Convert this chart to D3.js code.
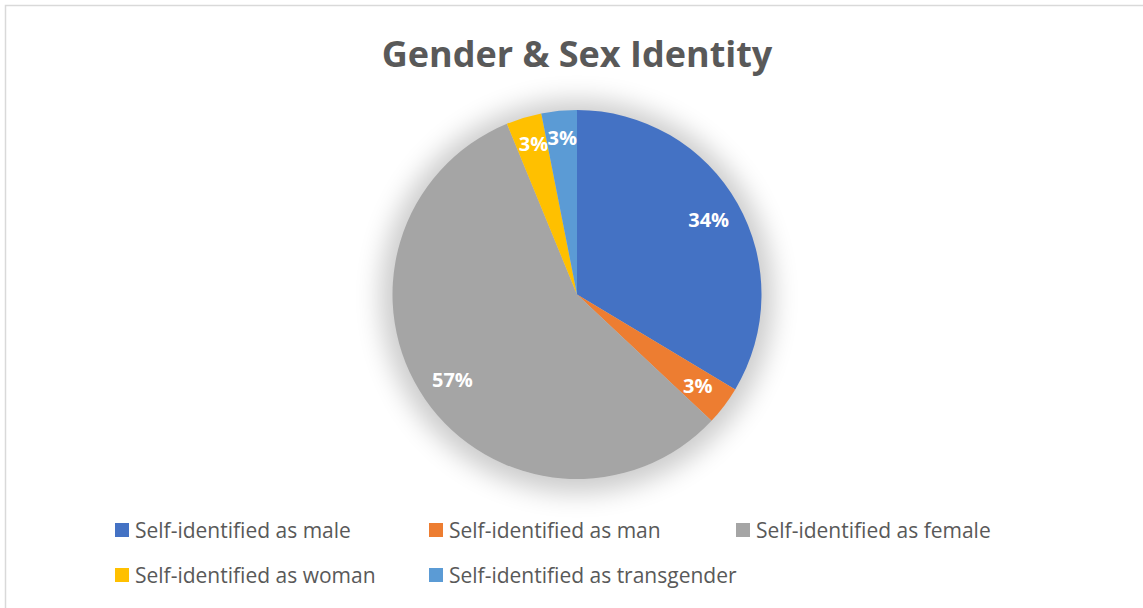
<!DOCTYPE html>
<html>
<head>
<meta charset="utf-8">
<script src="https://cdn.jsdelivr.net/npm/d3@7"></script>
<style>
  body { margin: 0; background: #fff; }
  svg text { font-family: "Open Sans", "Noto Sans", sans-serif; }
</style>
</head>
<body>
<svg id="chart" width="1143" height="608"></svg>
<script>
//------------------------------------------------------------------------------
//Data
//------------------------------------------------------------------------------
let title = "Gender & Sex Identity";
let categories = ["Self-identified as male", "Self-identified as man", "Self-identified as female",
                  "Self-identified as woman", "Self-identified as transgender"];
let values = [33.6, 3.4, 56.8, 3.1, 3.1];
let colors = ["#4472C4", "#ED7D31", "#A5A5A5", "#FFC000", "#5B9BD5"];

main()

//------------------------------------------------------------------------------
//Main
//------------------------------------------------------------------------------
function main()
{
    var svg = d3.select("#chart");

    // outer frame
    svg.append("rect")
        .attr("x", 5.5).attr("y", 5.5)
        .attr("width", 1160).attr("height", 620)
        .attr("fill", "#fff")
        .attr("stroke", "#d9d9d9")
        .attr("stroke-width", 1.5);

    // title
    svg.append("text")
        .attr("x", 577).attr("y", 67)
        .attr("text-anchor", "middle")
        .attr("font-size", 36)
        .attr("font-weight", "bold")
        .attr("fill", "#595959")
        .text(title);

    pieChart(svg);
    legend(svg);
}

function pieChart(svg)
{
    var cx = 577, cy = 294.5, radius = 184.5;
    var total = d3.sum(values);

    // soft shadow
    var defs = svg.append("defs");
    defs.append("filter")
        .attr("id", "shadow")
        .attr("x", "-50%").attr("y", "-50%")
        .attr("width", "200%").attr("height", "200%")
        .append("feGaussianBlur")
        .attr("stdDeviation", 13);

    var g = svg.append("g").attr("transform", "translate(" + cx + "," + cy + ")");

    g.append("circle")
        .attr("r", radius + 12)
        .attr("cy", 2)
        .attr("fill", "#000")
        .attr("opacity", 0.2)
        .attr("filter", "url(#shadow)");

    var pie = d3.pie().sort(null);
    var arc = d3.arc().innerRadius(0).outerRadius(radius);
    var labelArc = d3.arc().innerRadius(radius * 0.82).outerRadius(radius * 0.82);

    var arcs = g.selectAll(".arc")
        .data(pie(values))
        .enter()
        .append("g")
        .attr("class", "arc");

    arcs.append("path")
        .attr("fill", (d, i) => colors[i])
        .attr("d", arc);

    arcs.append("text")
        .attr("transform", d => "translate(" + labelArc.centroid(d) + ")")
        .attr("text-anchor", "middle")
        .attr("dy", d => (d.endAngle - d.startAngle < 0.3 && d.startAngle > 5) ? "0.05em" : "0.35em")
        .attr("font-size", 20)
        .attr("font-weight", "bold")
        .attr("fill", "#fff")
        .text(d => Math.round(d.data / total * 100) + "%");
}

function legend(svg)
{
    // 3 columns, 2 rows
    var colX = d3.scaleOrdinal().domain([0, 1, 2]).range([115, 429, 736]);
    var rowY = d3.scaleOrdinal().domain([0, 1]).range([523, 568]);

    var items = svg.selectAll(".legend")
        .data(categories)
        .enter()
        .append("g")
        .attr("class", "legend")
        .attr("transform", (d, i) => "translate(" + colX(i % 3) + "," + rowY(Math.floor(i / 3)) + ")");

    items.append("rect")
        .attr("width", 14).attr("height", 14)
        .attr("fill", (d, i) => colors[i]);

    items.append("text")
        .attr("x", 20).attr("y", 7)
        .attr("dy", "0.36em")
        .attr("font-size", 21)
        .attr("fill", "#595959")
        .text(d => d);
}
</script>
</body>
</html>
